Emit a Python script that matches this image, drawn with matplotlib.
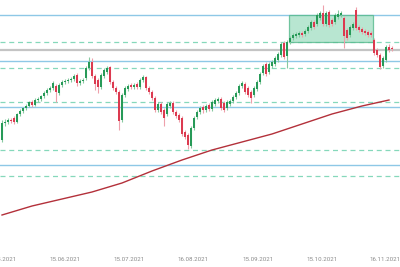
import matplotlib
matplotlib.use("Agg")
import matplotlib.pyplot as plt
from matplotlib.patches import Rectangle

# ---- data (price units, arbitrary scale) ----
opens = [160,177,178,180,182,178,186,189,192,194,198,195,200,201,204,207,210,212,214,207,
         215,218,219,220,221,225,217,219,222,232,238,224,220,213,224,228,233,218,212,208,
         180,205,211,215,213,216,213,220,223,212,208,202,190,196,190,186,194,197,188,185,
         182,168,165,154,172,183,188,193,190,195,191,196,199,201,197,192,196,199,203,207,
         214,216,212,208,205,211,218,227,236,228,234,236,240,245,257,244,258,262,264,265,
         267,266,269,272,278,276,282,287,276,288,280,278,283,285,282,270,265,272,290,273,
         271,269,268,267,260,250,245,234,240,253,252]
highs = [180,181,182,182,184,187,191,193,196,199,200,202,203,205,209,212,214,219,216,217,
         220,221,222,223,226,227,221,222,234,243,242,226,222,227,232,234,234,220,214,210,
         207,214,216,217,217,218,222,225,224,214,210,204,198,198,192,198,199,199,190,187,
         184,170,167,174,184,190,194,195,196,197,200,202,203,203,199,200,201,205,209,216,
         219,218,214,210,214,220,228,236,238,238,240,244,248,258,259,260,264,267,268,269,
         269,271,275,280,280,287,289,295,289,290,282,287,290,289,284,272,275,278,293,275,
         273,271,270,269,262,252,247,244,255,256,254]
lows = [158,174,176,177,176,177,184,187,190,193,193,194,198,199,202,205,208,210,198,205,
        213,216,217,218,219,214,215,217,220,230,222,210,207,211,222,226,216,210,206,170,
        178,203,209,211,211,211,211,218,210,206,200,188,188,186,174,184,192,186,182,178,
        164,161,151,152,170,181,186,187,188,189,189,194,197,190,188,190,194,197,201,205,
        212,206,203,197,203,209,216,225,224,226,232,234,238,243,241,232,256,260,262,263,
        263,264,267,270,271,274,280,274,274,273,274,276,281,283,252,260,263,270,270,268,
        266,265,263,263,245,243,231,232,238,248,249]
closes = [177,178,180,179,178,186,189,192,194,198,195,200,201,204,207,210,212,217,208,215,
          218,219,220,221,224,217,219,220,232,238,224,216,213,225,230,232,218,212,208,179,
          205,212,214,213,215,213,220,223,212,208,202,190,196,188,182,196,197,188,184,180,
          166,163,155,172,182,188,192,190,194,191,198,200,201,192,190,198,199,203,207,214,
          217,208,205,202,212,218,226,234,226,236,238,242,246,256,243,258,262,265,266,267,
          265,269,273,278,273,285,287,276,287,275,276,285,286,287,264,262,273,276,272,270,
          268,267,265,265,247,245,233,242,253,250,251]

ma_index = [0, 10, 20, 30, 40, 50, 60, 70, 80, 90, 100, 110, 120, 129]
ma_values = [85, 94, 101, 108, 117, 129, 140, 150, 158, 166, 176, 186, 194, 200]

support_resistance = [285, 239, 192.7, 135]          # solid blue levels
dashed_levels = [258.3, 231.7, 197.7, 150, 124]      # dashed green levels
pivot_level = 250                                    # grey level
box_start, box_end = 95.7, 123.7                     # consolidation box (candle index)
box_low, box_high = 258.3, 285

tick_index = [-0.33, 21, 42.33, 63.67, 85.33, 106.67, 127.67]
tick_labels = ["15.05.2021", "15.06.2021", "15.07.2021", "16.08.2021",
               "15.09.2021", "15.10.2021", "16.11.2021"]

# ---- figure ----
fig = plt.figure(figsize=(4.0, 2.67), dpi=100)
ax = fig.add_axes([0, 17 / 267, 1, 250 / 267])
ax.set_xlim(-2 / 3, 398 / 3)
ax.set_ylim(50, 300)
for s in ax.spines.values():
    s.set_visible(False)
ax.set_yticks([])

for lv in support_resistance:
    ax.axhline(lv, color="#8ec8e6", lw=1.0, zorder=1)
for lv in dashed_levels:
    ax.axhline(lv, color="#86d8bb", lw=0.9, ls=(0, (4, 3)), zorder=1)
ax.axhline(pivot_level, color="#c4c4c4", lw=1.6, zorder=1)

ax.add_patch(Rectangle((box_start, box_low), box_end - box_start, box_high - box_low,
                       facecolor="#a6e0c6", edgecolor="#55b98c", lw=0.9, alpha=0.8,
                       zorder=1.5))

green, red = "#279a58", "#dc3a50"
green_w, red_w = "#86c9a0", "#eea0ab"
for i, (o, h, l, c) in enumerate(zip(opens, highs, lows, closes)):
    up = c >= o
    ax.vlines(i, l, h, color=green_w if up else red_w, lw=0.8, zorder=2)
    body = max(abs(c - o), 1.0)
    ax.bar(i, body, bottom=min(o, c), width=0.78,
           color=green if up else red, lw=0, zorder=3)

ax.plot(ma_index, ma_values, color="#b3303a", lw=1.0, zorder=4)

ax.set_xticks(tick_index)
ax.set_xticklabels(tick_labels, fontsize=4.4, color="#8a8a8a", family="Roboto")
ax.tick_params(axis="x", length=0, pad=5)

fig.savefig("out.png", dpi=100)
